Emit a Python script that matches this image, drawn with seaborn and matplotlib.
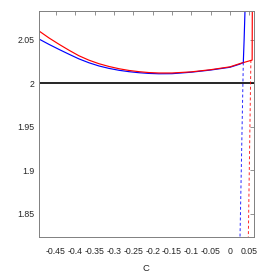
import numpy as np
import pandas as pd
import matplotlib
matplotlib.use("Agg")
import matplotlib.pyplot as plt
import seaborn as sns

# values
c_blue = [-0.494, -0.468, -0.442, -0.416, -0.391, -0.365, -0.339, -0.313, -0.287,
          -0.261, -0.235, -0.21, -0.184, -0.15, -0.1, -0.05, 0.0, 0.026, 0.0344,
          0.0365, 0.0392]
v_blue = [2.0510, 2.0448, 2.0390, 2.0334, 2.0282, 2.0237, 2.0200, 2.0172, 2.0150,
          2.0134, 2.0122, 2.0114, 2.0110, 2.0111, 2.0128, 2.0153, 2.0185, 2.0222, 2.0240,
          2.05, 2.09]
c_red = [-0.494, -0.468, -0.442, -0.416, -0.391, -0.365, -0.339, -0.313, -0.287,
         -0.261, -0.235, -0.21, -0.184, -0.15, -0.1, -0.05, 0.0, 0.026, 0.045,
         0.0573, 0.0577]
v_red = [2.0603, 2.0522, 2.0449, 2.0380, 2.0318, 2.0267, 2.0226, 2.0194, 2.0168,
         2.0148, 2.0134, 2.0124, 2.0119, 2.0119, 2.0132, 2.0157, 2.0190, 2.0228, 2.0252,
         2.0268, 2.09]

# dashed markers of the singular points (top on the curve, bottom at the axis)
dash_blue_x = [0.0344, 0.0259]
dash_red_x = [0.054, 0.0474]
dash_y = [[2.024, 1.823], [2.0268, 1.823]]

xticks = [-0.45, -0.4, -0.35, -0.3, -0.25, -0.2, -0.15, -0.1, -0.05, 0, 0.05]
xtick_labels = ["-0.45", "-0.4", "-0.35", "-0.3", "-0.25", "-0.2", "-0.15", "-0.1", "-0.05", "0", "0.05"]
yticks = [1.85, 1.9, 1.95, 2.0, 2.05]
ytick_labels = ["1.85", "1.9", "1.95", "2", "2.05"]

sns.set_style("white")
plt.rcParams['font.family'] = ['Liberation Sans Narrow', 'Liberation Sans', 'DejaVu Sans']

fig = plt.figure(figsize=(2.77, 2.77), dpi=100)
ax = fig.add_axes([0.1408, 0.1444, 0.7751, 0.8159])

blue = pd.DataFrame({'c': c_blue, 'v': v_blue})
red = pd.DataFrame({'c': c_red, 'v': v_red})
sns.lineplot(data=blue, x='c', y='v', color='blue', lw=0.85, estimator=None, sort=False, ax=ax)
sns.lineplot(data=red, x='c', y='v', color='red', lw=0.85, estimator=None, sort=False, ax=ax)

ax.axhline(2.0, color='black', lw=1.2)
ax.plot(dash_blue_x, dash_y[0], color='blue', lw=0.7, ls='--', dashes=(3, 2.5), alpha=0.85)
ax.plot(dash_red_x, dash_y[1], color='red', lw=0.7, ls='--', dashes=(3, 2.5), alpha=0.85)

ax.set_xlim(-0.494, 0.0613)
ax.set_ylim(1.823, 2.0833)
ax.set_xticks(xticks)
ax.set_xticklabels(xtick_labels)
ax.set_yticks(yticks)
ax.set_yticklabels(ytick_labels)
ax.tick_params(direction='in', length=3, width=0.6, color='#808080',
               top=True, right=True, labelsize=6.3)
ax.tick_params(axis='x', pad=7)
ax.tick_params(axis='y', pad=3)
for s in ax.spines.values():
    s.set_color('#808080')
    s.set_linewidth(0.7)
ax.set_xlabel('C', fontsize=6.8, labelpad=6)
ax.set_ylabel('')

fig.savefig('out.png', dpi=100)
